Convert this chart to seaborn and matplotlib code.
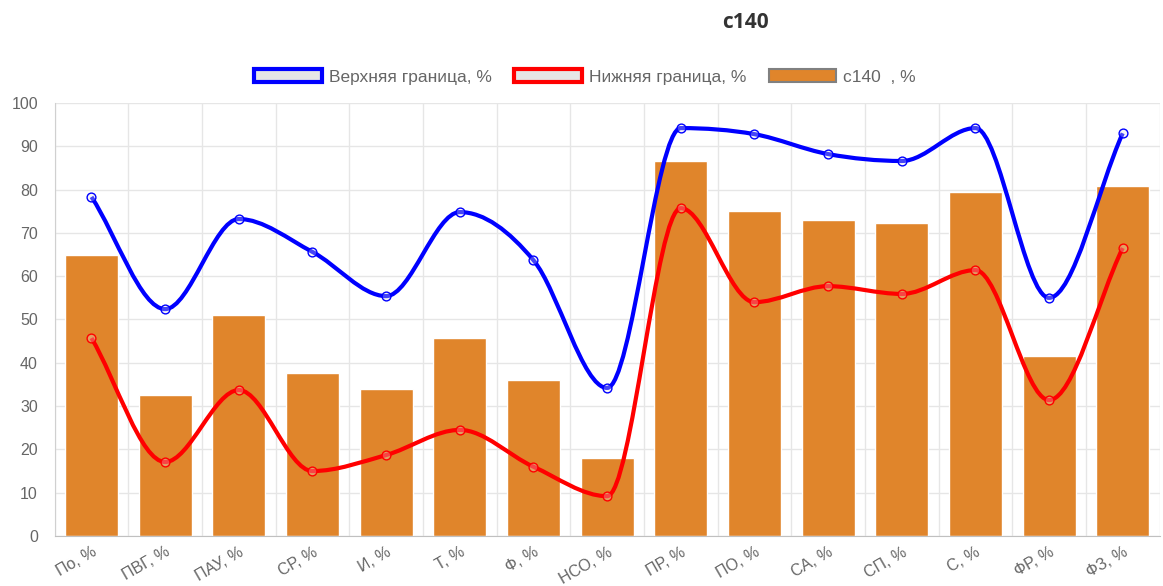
import numpy as np
import pandas as pd
import matplotlib
matplotlib.use("Agg")
import matplotlib.pyplot as plt
from matplotlib.path import Path
from matplotlib.patches import PathPatch, Patch
import seaborn as sns

# данные
categories = ["По, %", "ПВГ, %", "ПАУ, %", "СР, %", "И, %", "Т, %", "Ф, %", "НСО, %",
              "ПР, %", "ПО, %", "СА, %", "СП, %", "С, %", "ФР, %", "ФЗ, %"]
c140 = [65, 32.5, 51, 37.6, 34, 45.7, 36, 18, 86.6, 75, 73, 72.3, 79.4, 41.6, 80.8]
upper = [78.3, 52.4, 73.2, 65.6, 55.4, 74.8, 63.7, 34.2, 94.2, 92.8, 88.2, 86.6, 94.2, 55, 93]
lower = [45.7, 17.1, 33.7, 15, 18.7, 24.5, 16, 9.2, 75.7, 54, 57.7, 55.9, 61.4, 31.4, 66.5]

df = pd.DataFrame({"cat": categories, "c140": c140, "upper": upper, "lower": lower})

sns.set_style("white")
plt.rcParams['font.family'] = ['Liberation Sans', 'DejaVu Sans']

fig = plt.figure(figsize=(11.63, 5.86), dpi=100)
ax = fig.add_axes([0.047, 0.0853, 0.950, 0.739])

sns.barplot(data=df, x="cat", y="c140", color="#e0852b", saturation=1, width=0.72, ax=ax, zorder=2)


def monotone_path(vals):
    # монотонная кубическая кривая (как cubicInterpolationMode 'monotone' в Chart.js)
    y = np.asarray(vals, dtype=float)
    x = np.arange(len(y), dtype=float)
    n = len(y)
    dk = np.diff(y) / np.diff(x)
    mk = np.zeros(n)
    mk[0], mk[-1] = dk[0], dk[-1]
    for i in range(1, n - 1):
        mk[i] = 0 if dk[i - 1] * dk[i] <= 0 else (dk[i - 1] + dk[i]) / 2
    for i in range(n - 1):
        if dk[i] == 0:
            mk[i] = mk[i + 1] = 0
            continue
        a, b = mk[i] / dk[i], mk[i + 1] / dk[i]
        sq = a * a + b * b
        if sq > 9:
            tau = 3 / np.sqrt(sq)
            mk[i] = a * tau * dk[i]
            mk[i + 1] = b * tau * dk[i]
    verts = [(x[0], y[0])]
    codes = [Path.MOVETO]
    for i in range(n - 1):
        dx = (x[i + 1] - x[i]) / 3
        verts += [(x[i] + dx, y[i] + mk[i] * dx),
                  (x[i + 1] - dx, y[i + 1] - mk[i + 1] * dx),
                  (x[i + 1], y[i + 1])]
        codes += [Path.CURVE4] * 3
    return Path(verts, codes)


for col, color in [("upper", "#0000ff"), ("lower", "#ff0000")]:
    ax.add_patch(PathPatch(monotone_path(df[col].values), facecolor="none",
                           edgecolor=color, lw=3, zorder=4))
    sns.scatterplot(x=np.arange(len(df)), y=df[col], ax=ax, s=40, marker="o",
                    facecolor=(0.9, 0.9, 0.9, 0.3), edgecolor=color, linewidth=1.0, zorder=5)

ax.set_xlim(-0.5, len(categories) - 0.5)
ax.set_ylim(0, 100)
ax.set_yticks(range(0, 101, 10))
ax.set_xticks(range(len(categories)))
ax.set_xticklabels(categories, rotation=30, ha="right", rotation_mode="anchor")
ax.set_xticks(np.arange(-0.5, len(categories), 1), minor=True)
ax.grid(False)
ax.grid(True, which="minor", axis="x", color="#e6e6e6", lw=1, zorder=0)
ax.grid(True, which="major", axis="y", color="#e6e6e6", lw=1, zorder=0)
ax.tick_params(axis="x", which="major", length=0, pad=6, labelsize=11.5, labelcolor="#666666")
ax.tick_params(axis="x", which="minor", length=10, color="#e6e6e6")
ax.tick_params(axis="y", length=10, color="#e6e6e6", labelsize=11.5, labelcolor="#666666", pad=2)
ax.set_xlabel("")
ax.set_ylabel("")
for side in ["top", "right"]:
    ax.spines[side].set_visible(False)
ax.spines["left"].set_color("#d0d0d0")
ax.spines["bottom"].set_color("#c0c0c0")

handles = [
    Patch(facecolor="#e6e6e6", edgecolor="#0000ff", lw=3, label="Верхняя граница, %"),
    Patch(facecolor="#e6e6e6", edgecolor="#ff0000", lw=3, label="Нижняя граница, %"),
    Patch(facecolor="#e0852b", edgecolor="#808080", lw=1.5, label="c140  , %"),
]
fig.legend(handles=handles, loc="center", bbox_to_anchor=(0.503, 0.869), ncol=3, frameon=False,
           fontsize=12.5, labelcolor="#666666", handlelength=3.9, handleheight=0.8,
           columnspacing=1.3, handletextpad=0.4)
fig.text(0.641, 0.962, "c140", ha="center", va="center", fontsize=15, fontweight="bold",
         color="#333333", family=["Open Sans", "DejaVu Sans"])

fig.savefig("out.png", dpi=100)
